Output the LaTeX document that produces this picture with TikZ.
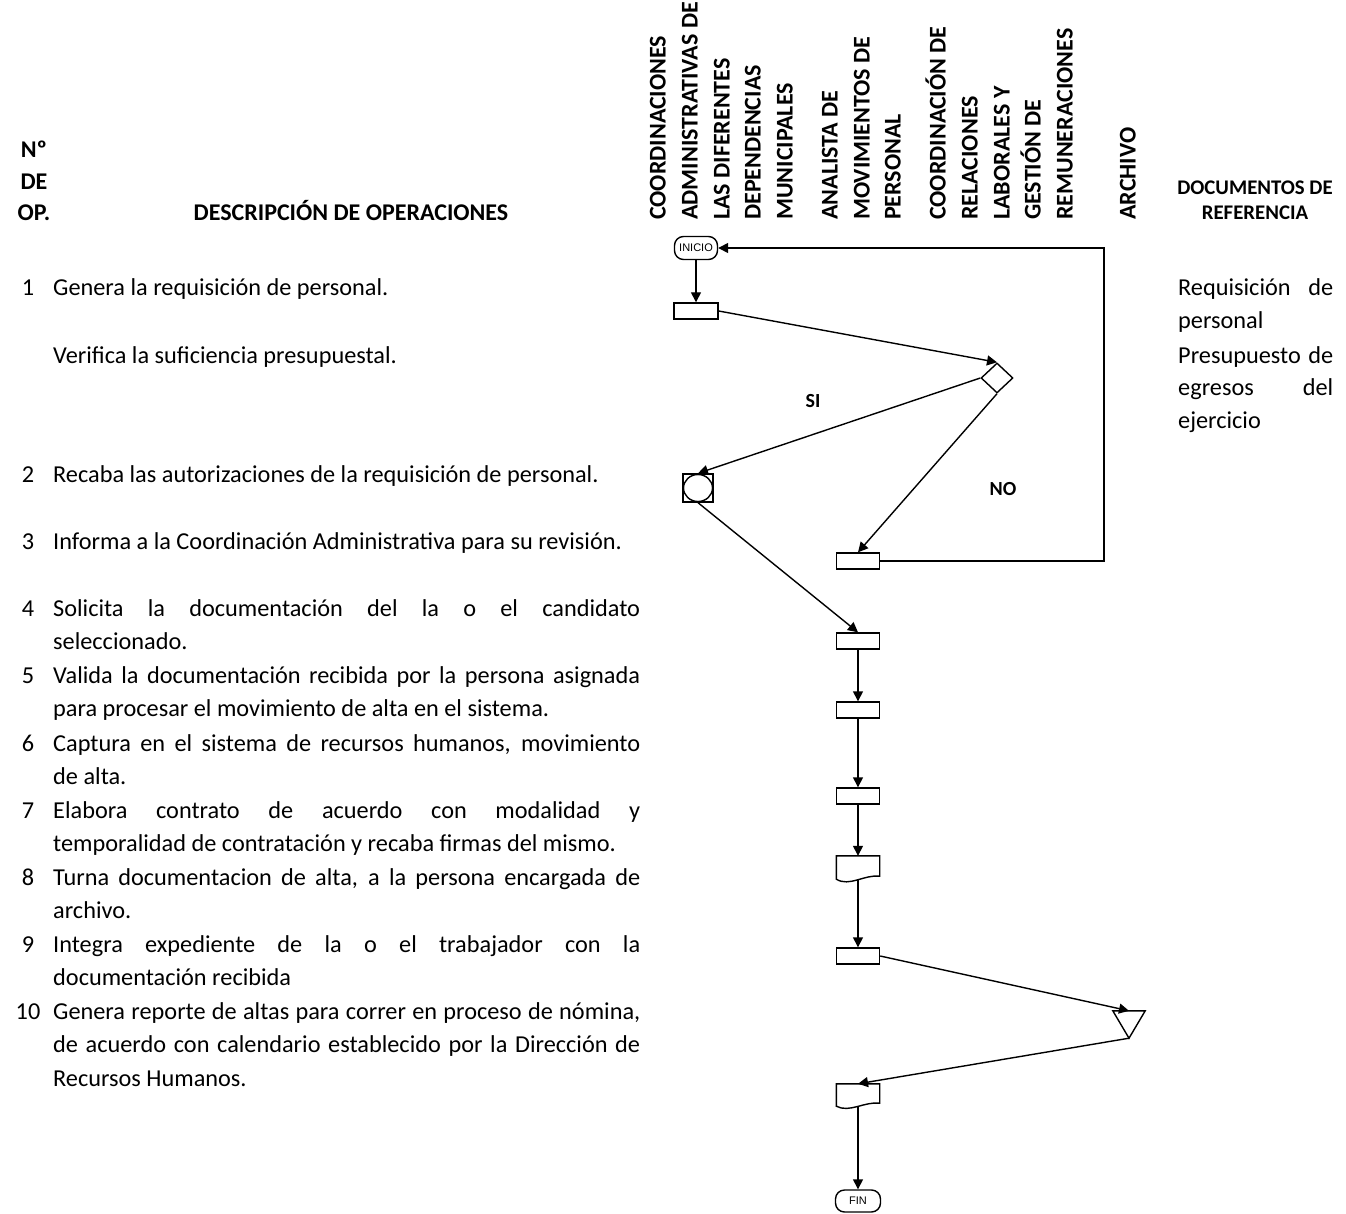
\documentclass[tikz,border=0pt]{standalone}
\usepackage{fontspec}
\setmainfont{Carlito}
\newfontfamily\arialfont{Liberation Sans}
\usetikzlibrary{arrows.meta,shapes.geometric}

\tikzset{
	flecha/.style={-{Triangle[length=10pt,width=10pt]}, line width=1.4pt},
	caja/.style={draw, line width=1.4pt, minimum width=43pt, minimum height=16pt, inner sep=0pt},
	terminal/.style={draw, line width=1.4pt, rounded corners=9pt, minimum width=43pt, minimum height=23pt, inner sep=0pt, font=\arialfont\fontsize{11}{13}\selectfont},
	forma/.style={minimum width=43pt, minimum height=26pt, inner sep=0pt},
	encabezado/.style={font=\bfseries\fontsize{24}{32}\selectfont, inner sep=0pt},
	columna/.style={font=\bfseries\fontsize{24}{32}\selectfont, inner sep=0pt, rotate=90, anchor=base west},
	etiqueta/.style={font=\bfseries\fontsize{20}{24}\selectfont, inner sep=0pt},
	numero/.style={font=\fontsize{24.3}{33.5}\selectfont, inner sep=0pt, anchor=base},
	texto/.style={inner sep=0pt, anchor=base west},
}
\newcommand{\descop}[1]{\parbox[t]{587pt}{\fontsize{24.3}{33.5}\selectfont\hyphenpenalty=10000\tolerance=9999 #1}}
\newcommand{\docref}[1]{\parbox[t]{155pt}{\fontsize{24.3}{32.5}\selectfont\hyphenpenalty=10000\tolerance=9999 #1}}

\begin{document}
\begin{tikzpicture}[x=1pt, y=-1pt]
	\useasboundingbox (0,0) rectangle (1346,1214);

	% encabezados
	\node[encabezado, anchor=base] (hno) at (34,158) {Nº};
	\node[encabezado, anchor=base] (hde) at (34,190) {DE};
	\node[encabezado, anchor=base] (hop) at (34,221) {OP.};
	\node[encabezado, anchor=base] (hdesc) at (351,221) {DESCRIPCIÓN DE OPERACIONES};
	\foreach \x/\t in {665.6/COORDINACIONES, 697.6/ADMINISTRATIVAS DE, 729.6/LAS DIFERENTES, 760.6/DEPENDENCIAS, 792.6/MUNICIPALES,
		837.6/ANALISTA DE, 869.6/MOVIMIENTOS DE, 900.6/PERSONAL,
		945.6/COORDINACIÓN DE, 977.6/RELACIONES, 1009.6/LABORALES Y, 1040.6/GESTIÓN DE, 1072.6/REMUNERACIONES,
		1135.6/ARCHIVO}
		\node[columna] (col\x) at (\x,220) {\t};
	\node[etiqueta, font=\bfseries\fontsize{20.8}{24}\selectfont, anchor=base] (hdoc1) at (1255,195) {DOCUMENTOS DE};
	\node[etiqueta, font=\bfseries\fontsize{20.8}{24}\selectfont, anchor=base] (hdoc2) at (1255,220) {REFERENCIA};

	% operaciones
	\node[numero] (n1) at (28,296) {1};
	\node[texto] (t1) at (53,296) {\descop{Genera la requisición de personal.}};
	\node[texto] (t1b) at (53,363) {\descop{Verifica la suficiencia presupuestal.}};
	\node[numero] (n2) at (28,482) {2};
	\node[texto] (t2) at (53,482) {\descop{Recaba las autorizaciones de la requisición de personal.}};
	\node[numero] (n3) at (28,549) {3};
	\node[texto] (t3) at (53,549) {\descop{Informa a la Coordinación Administrativa para su revisión.}};
	\node[numero] (n4) at (28,616) {4};
	\node[texto] (t4) at (53,616) {\descop{Solicita la documentación del la o el candidato\linebreak seleccionado.}};
	\node[numero] (n5) at (28,683) {5};
	\node[texto] (t5) at (53,683) {\descop{Valida la documentación recibida por la persona asignada\linebreak para procesar el movimiento de alta en el sistema.}};
	\node[numero] (n6) at (28,751) {6};
	\node[texto] (t6) at (53,751) {\descop{Captura en el sistema de recursos humanos, movimiento\linebreak de alta.}};
	\node[numero] (n7) at (28,818) {7};
	\node[texto] (t7) at (53,818) {\descop{Elabora contrato de acuerdo con modalidad y\linebreak temporalidad de contratación y recaba firmas del mismo.}};
	\node[numero] (n8) at (28,885) {8};
	\node[texto] (t8) at (53,885) {\descop{Turna documentacion de alta, a la persona encargada de\linebreak archivo.}};
	\node[numero] (n9) at (28,952) {9};
	\node[texto] (t9) at (53,952) {\descop{Integra expediente de la o el trabajador con la\linebreak documentación recibida}};
	\node[numero] (n10) at (28,1019) {10};
	\node[texto] (t10) at (53,1019) {\descop{Genera reporte de altas para correr en proceso de nómina,\linebreak de acuerdo con calendario establecido por la Dirección de\linebreak Recursos Humanos.}};

	% documentos de referencia
	\node[texto] (d1) at (1178,296) {\docref{Requisición de\linebreak personal}};
	\node[texto] (d2) at (1178,363) {\docref{Presupuesto de\linebreak egresos del\linebreak ejercicio}};

	% diagrama
	\node[terminal] (inicio) at (696,248) {INICIO};
	\node[caja, minimum width=44pt] (op1) at (696,311) {};
	\node[diamond, draw, line width=1.4pt, minimum width=32pt, minimum height=30pt, inner sep=0pt] (dec) at (997,378) {};
	\node[caja, minimum width=30pt, minimum height=28pt] (op2) at (698,488) {};
	\draw[line width=1.4pt] (op2.center) ellipse (14.5 and 13.5);
	\node[caja] (op3) at (858,561) {};
	\node[caja] (op4) at (858,641) {};
	\node[caja] (op5) at (858,710) {};
	\node[caja] (op6) at (858,796) {};
	\node[forma] (op7) at (858,869) {};
	\draw[line width=1.4pt] (op7.north west) -- (op7.north east) -- ([yshift=6pt]op7.south east)
		.. controls ([xshift=-15pt,yshift=8pt]op7.south east) and ([xshift=13pt,yshift=-5pt]op7.south west) .. ([yshift=3pt]op7.south west) -- cycle;
	\node[caja] (op8) at (858,956) {};
	\node[minimum width=32pt, minimum height=27pt, inner sep=0pt] (op9) at (1129,1024.5) {};
	\draw[line width=1.4pt] (op9.north west) -- (op9.north east) -- (op9.south) -- cycle;
	\node[forma, minimum height=24pt] (op10) at (858,1096) {};
	\draw[line width=1.4pt] (op10.north west) -- (op10.north east) -- ([yshift=5pt]op10.south east)
		.. controls ([xshift=-15pt,yshift=7pt]op10.south east) and ([xshift=13pt,yshift=-5pt]op10.south west) .. ([yshift=2pt]op10.south west) -- cycle;
	\node[terminal, minimum width=45pt, minimum height=22pt] (fin) at (858,1201) {FIN};

	\node[etiqueta] (si) at (813,401) {SI};
	\node[etiqueta] (no) at (1003,489) {NO};

	% conectores
	\draw[flecha] (inicio) -- (op1);
	\draw[flecha] (op1.east) -- (dec.north);
	\draw[flecha] (dec.west) -- (op2.north);
	\draw[flecha] (dec.south) -- (op3.north);
	\coordinate (vuelta) at (1104,248);
	\draw[flecha] (op3.east) -| (vuelta) -- (inicio.east);
	\draw[flecha] (op2.south) -- (op4.north);
	\draw[flecha] (op4) -- (op5);
	\draw[flecha] (op5) -- (op6);
	\draw[flecha] (op6) -- (op7);
	\draw[flecha] ([yshift=2pt]op7.south) -- (op8.north);
	\draw[flecha] (op8.east) -- (op9.north);
	\draw[flecha] (op9.south) -- (op10.north);
	\draw[flecha] ([yshift=2pt]op10.south) -- (fin.north);
\end{tikzpicture}
\end{document}
